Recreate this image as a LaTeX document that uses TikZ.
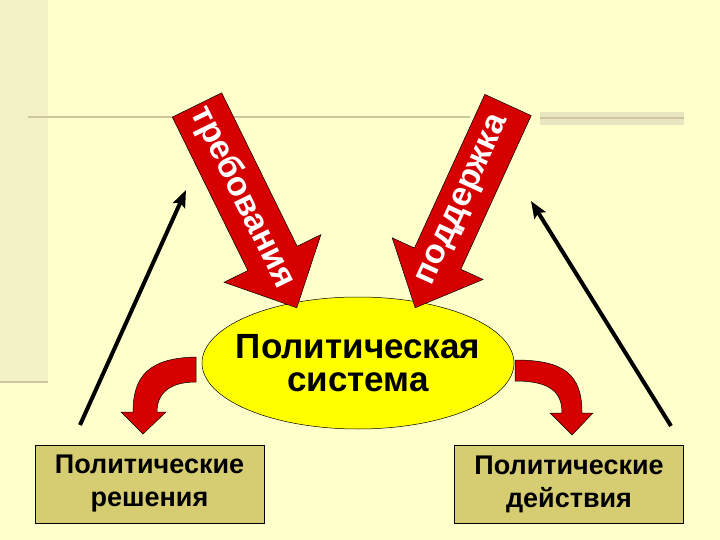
\documentclass[tikz,border=0pt]{standalone}
\usepackage{fontspec}
\setmainfont{Liberation Sans}
\usetikzlibrary{arrows.meta,shapes.geometric}

\definecolor{hatter}{RGB}{255,255,204}
\definecolor{savcsik}{RGB}{242,242,198}
\definecolor{vonal}{RGB}{208,198,158}
\definecolor{halvany}{RGB}{232,230,192}
\definecolor{piros}{RGB}{214,0,0}
\definecolor{sarga}{RGB}{255,255,0}
\definecolor{doboz}{RGB}{214,205,115}

\begin{document}
\begin{tikzpicture}[
    x=1pt, y=1pt,
    % Piros vastag nyilak stílusa
    red arrow/.style={fill=piros, draw=black, line width=0.5pt},
    % Felirat a piros nyilakon
    arrow label/.style={text=white, font=\bfseries\fontsize{34}{34}\selectfont,
        inner sep=0pt, transform shape},
    % Fekete visszacsatoló nyilak
    feedback/.style={line width=4pt, -{Stealth[length=17pt,width=13pt,inset=3pt]}},
    % Alsó dobozok
    outbox/.style={rectangle, draw=black, line width=0.6pt, fill=doboz,
        minimum width=229pt, minimum height=78pt, align=center,
        font=\bfseries\fontsize{27}{33}\selectfont}
]
    % Háttér és díszítő vonalak
    \useasboundingbox (0,0) rectangle (720,-540);
    \fill[hatter] (0,0) rectangle (720,-540);
    \fill[savcsik] (0,0) rectangle (48,-382);
    \draw[vonal, line width=2.5pt] (0,-382) -- (48,-382);
    \draw[vonal, line width=2pt] (28,-117) -- (470,-117);
    \fill[halvany] (540,-112) rectangle (684,-125);
    \draw[vonal, line width=2pt] (540,-118) -- (684,-118);

    % Koordináták a fekete nyilakhoz
    \coordinate (L0) at (80,-425);
    \coordinate (L1) at (186,-190);
    \coordinate (R0) at (671,-426);
    \coordinate (R1) at (531,-201);

    % Politikai rendszer (ellipszis + felirat)
    \node[ellipse, draw=black, line width=0.5pt, fill=sarga, inner sep=0pt,
        minimum width=312pt, minimum height=132pt] (rendszer) at (358,-363) {};
    \node[align=center, font=\bfseries\fontsize{35}{33}\selectfont]
        (rendszerfelirat) at (rendszer.center) {Политическая\\система};

    % Kimenetek
    \node[outbox] (dontes) at (149.5,-484) {Политические\\решения};
    \node[outbox] (akcio) at (569,-484) {Политические\\действия};

    % Bemenet: требования
    \begin{scope}[shift={(197,-105)}, rotate=-63.8]
        \draw[red arrow] (0,27.5) -- (171,27.5) -- (171,54) -- (226,0)
            -- (171,-54) -- (171,-27.5) -- (0,-27.5) -- cycle;
        \node[arrow label] (igeny) at (103,0) {требования};
    \end{scope}

    % Bemenet: поддержка
    \begin{scope}[shift={(508,-105)}, rotate=-114.6]
        \draw[red arrow] (0,25.5) -- (169,25.5) -- (169,50) -- (223,0)
            -- (169,-50) -- (169,-25.5) -- (0,-25.5) -- cycle;
        \node[arrow label, rotate=180] (tamogatas) at (105,0) {поддержка};
    \end{scope}

    % Kanyarodó piros nyilak a dobozok felé
    \draw[red arrow] (196,-357) .. controls (150,-358) and (133,-375) .. (133,-412)
        -- (121,-412) -- (143,-434) -- (166,-412) -- (157,-412)
        .. controls (157,-393) and (170,-382) .. (196,-382) -- cycle;
    \draw[red arrow] (515,-360) .. controls (565,-360) and (582,-375) .. (582,-413)
        -- (593,-413) -- (572,-435) -- (550,-413) -- (562,-413)
        .. controls (562,-392) and (550,-381) .. (515,-381) -- cycle;

    % Visszacsatolás
    \draw[feedback] (L0) -- (L1);
    \draw[feedback] (R0) -- (R1);
\end{tikzpicture}
\end{document}
